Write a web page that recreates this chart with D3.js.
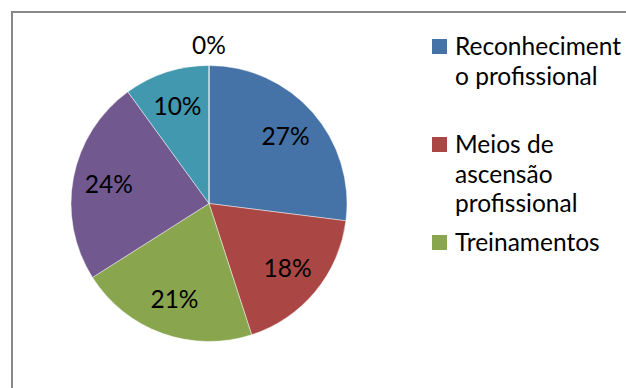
<!DOCTYPE html>
<html>
<head>
<meta charset="utf-8">
<script src="https://cdn.jsdelivr.net/npm/d3@7"></script>
<style>
  html, body { margin: 0; padding: 0; background: #fff; }
  svg { display: block; }
  text { font-family: Lato, "Open Sans", sans-serif; fill: #000; }
</style>
</head>
<body>
<svg id="chart" width="626" height="388"></svg>
<script>
// Data
const categories = ["Reconhecimento profissional", "Meios de ascensão profissional", "Treinamentos", "Categoria 4", "Categoria 5", "Categoria 6"];
const values = [27, 18, 21, 24, 10, 0];
const colors = ["#4572A7", "#AA4643", "#89A54E", "#71588F", "#4198AF", "#DB843D"];
// Legend as visible (wrapped, only first three entries fit)
const legendLines = [
  ["Reconheciment", "o profissional"],
  ["Meios de", "ascensão", "profissional"],
  ["Treinamentos"]
];

const svg = d3.select("#chart");
const W = 626, H = 388;
const cx = 209, cy = 203.5, R = 138;
const fontSize = 24.5;

// Frame
svg.append("rect")
  .attr("x", 12).attr("y", 12)
  .attr("width", W + 20).attr("height", H + 20)
  .attr("fill", "none").attr("stroke", "#898989").attr("stroke-width", 2);

const pie = d3.pie().sort(null).value(d => d)(values);
const arc = d3.arc().innerRadius(0).outerRadius(R);

const g = svg.append("g").attr("transform", `translate(${cx},${cy})`);
g.selectAll("path.slice")
  .data(pie)
  .join("path")
  .attr("class", "slice")
  .attr("d", arc)
  .attr("fill", (d, i) => colors[i])
  .attr("stroke", "rgba(255,255,255,0.45)")
  .attr("stroke-width", 1);

const labelR = 102;
g.selectAll("text.lbl")
  .data(pie)
  .join("text")
  .attr("class", "lbl")
  .attr("text-anchor", "middle")
  .attr("font-size", fontSize)
  .attr("transform", d => {
    const a = (d.startAngle + d.endAngle) / 2;
    const r = d.value === 0 ? R + 20 : labelR;
    const x = Math.sin(a) * r, y = -Math.cos(a) * r;
    return `translate(${x},${y + 8.5})`;
  })
  .text(d => Math.round(d.value / d3.sum(values) * 100) + "%");

// Legend
const lg = svg.append("g");
const entryStep = 98, lineStep = 29.5, lx = 432, ly = 39;
legendLines.forEach((lines, i) => {
  const y0 = ly + i * entryStep;
  lg.append("rect")
    .attr("x", lx).attr("y", y0).attr("width", 15).attr("height", 15)
    .attr("fill", colors[i]);
  const t = lg.append("text").attr("font-size", fontSize);
  lines.forEach((ln, j) => {
    t.append("tspan").attr("x", lx + 23).attr("y", y0 + 16 + j * lineStep).text(ln);
  });
});
</script>
</body>
</html>
